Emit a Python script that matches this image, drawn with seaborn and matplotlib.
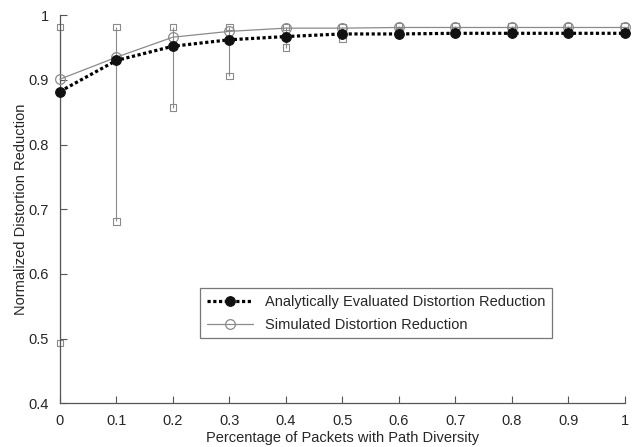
import numpy as np
import pandas as pd
import matplotlib
matplotlib.use("Agg")
import matplotlib.pyplot as plt
import seaborn as sns

# =================== DATA ===================

pct = [0.0, 0.1, 0.2, 0.3, 0.4, 0.5, 0.6, 0.7, 0.8, 0.9, 1.0]
analytic = [0.882, 0.930, 0.952, 0.962, 0.967, 0.971, 0.971, 0.972, 0.972, 0.972, 0.972]
simulated = [0.901, 0.935, 0.966, 0.975, 0.980, 0.980, 0.981, 0.981, 0.981, 0.981, 0.981]
sim_low = [0.493, 0.681, 0.857, 0.906, 0.950, 0.963, 0.975, 0.977, 0.977, 0.977, 0.977]
sim_high = [0.982, 0.982, 0.982, 0.982, 0.982, 0.982, 0.983, 0.983, 0.983, 0.983, 0.983]
yticks = [0.4, 0.5, 0.6, 0.7, 0.8, 0.9, 1.0]
ytick_labels = ["0.4", "0.5", "0.6", "0.7", "0.8", "0.9", "1"]
xticks = [0, 0.1, 0.2, 0.3, 0.4, 0.5, 0.6, 0.7, 0.8, 0.9, 1.0]
xtick_labels = ["0", "0.1", "0.2", "0.3", "0.4", "0.5", "0.6", "0.7", "0.8", "0.9", "1"]

# =================== PLOT ===================

sns.set_style("ticks")
plt.rcParams["font.family"] = ["Liberation Sans", "DejaVu Sans"]

df = pd.DataFrame({"pct": pct, "analytic": analytic, "simulated": simulated,
                   "low": sim_low, "high": sim_high})

fig = plt.figure(figsize=(6.44, 4.47), dpi=100)
ax = fig.add_axes([0.093, 0.098, 0.877, 0.868])

grey = "#8a8a8a"
# error bars of simulation
ax.vlines(df["pct"], df["low"], df["high"], color=grey, lw=0.8, zorder=1)
sns.scatterplot(x="pct", y="low", data=df, marker="s", s=22, facecolor="none",
                edgecolor=grey, linewidth=0.8, ax=ax, zorder=2, clip_on=False)
sns.scatterplot(x="pct", y="high", data=df, marker="s", s=22, facecolor="none",
                edgecolor=grey, linewidth=0.8, ax=ax, zorder=2, clip_on=False)

sns.lineplot(x="pct", y="simulated", data=df, color=grey, lw=0.9, marker="o",
             markersize=7, markerfacecolor="none", markeredgecolor=grey,
             markeredgewidth=0.9, ax=ax, zorder=3, clip_on=False,
             label="Simulated Distortion Reduction")
sns.lineplot(x="pct", y="analytic", data=df, color="black", lw=2.3, linestyle=(0, (1, 0.8)),
             marker="o", markersize=7, markerfacecolor="#111111", markeredgecolor="#111111",
             ax=ax, zorder=4, clip_on=False,
             label="Analytically Evaluated Distortion Reduction")

ax.set_xlim(0, 1)
ax.set_ylim(0.4, 1)
ax.set_xticks(xticks)
ax.set_xticklabels(xtick_labels)
ax.set_yticks(yticks)
ax.set_yticklabels(ytick_labels)
ax.tick_params(direction="in", length=5, labelsize=10.5, color="#555555", pad=8)
for s in ["left", "bottom"]:
    ax.spines[s].set_color("#555555")
    ax.spines[s].set_linewidth(0.9)
sns.despine(ax=ax)

ax.set_xlabel("Percentage of Packets with Path Diversity", fontsize=10.5, labelpad=2)
ax.set_ylabel("Normalized Distortion Reduction", fontsize=10.5, labelpad=0)

h, l = ax.get_legend_handles_labels()
leg = ax.legend(h[::-1], l[::-1], loc="upper left", bbox_to_anchor=(0.248, 0.296),
                fontsize=10.5, frameon=True, fancybox=False, edgecolor="#555555",
                borderaxespad=0, handlelength=3.2, borderpad=0.45, labelspacing=0.6)
leg.get_frame().set_linewidth(0.9)

fig.savefig("out.png", dpi=100)
